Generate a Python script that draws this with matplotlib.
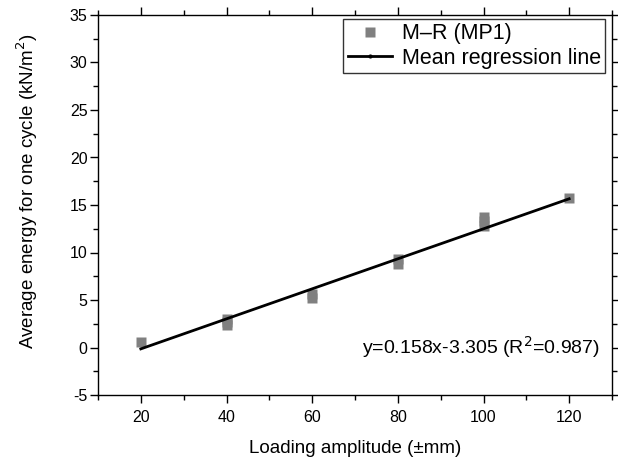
import matplotlib
matplotlib.use('Agg')
import matplotlib.pyplot as plt
from matplotlib.lines import Line2D
from matplotlib.ticker import MultipleLocator
import numpy as np

# data
amp_x = [20, 40, 40, 40, 60, 60, 80, 80, 100, 100, 100, 120]
energy_y = [0.6, 2.4, 2.7, 3.0, 5.2, 5.6, 8.8, 9.3, 12.8, 13.3, 13.7, 15.7]
slope = 0.158
intercept = -3.305
fit_range = [20, 120]

plt.rcParams['font.family'] = ['Liberation Sans', 'DejaVu Sans']
plt.rcParams['axes.unicode_minus'] = False

fig = plt.figure(figsize=(6.18, 4.61), dpi=100)
ax = fig.add_axes([98 / 618, 66 / 461, 514 / 618, 380 / 461])

ax.plot(amp_x, energy_y, 's', color='#808080', ms=7, mec='none', zorder=2)
xf = np.array(fit_range)
ax.plot(xf, slope * xf + intercept, color='black', lw=2, zorder=3)

ax.set_xlim(10, 130)
ax.set_ylim(-5, 35)
ax.xaxis.set_major_locator(MultipleLocator(20))
ax.xaxis.set_minor_locator(MultipleLocator(10))
ax.yaxis.set_major_locator(MultipleLocator(5))
ax.yaxis.set_minor_locator(MultipleLocator(2.5))
ax.tick_params(which='both', direction='out', top=True, right=True,
               labeltop=False, labelright=False, width=1)
ax.tick_params(which='major', length=5.5, labelsize=11.5)
ax.tick_params(axis='x', which='major', pad=5)
ax.tick_params(axis='y', which='major', pad=2)
ax.tick_params(which='minor', length=3.5)
for s in ax.spines.values():
    s.set_linewidth(1)

ax.set_xlabel('Loading amplitude (\u00b1mm)', fontsize=13.5, labelpad=11)
ax.set_ylabel('Average energy for one cycle (kN/m$^{2}$)', fontsize=13.5)
ax.yaxis.set_label_coords(-0.112, 0.535)

handles = [
    Line2D([], [], ls='none', marker='s', color='#808080', ms=7, mec='none'),
    Line2D([], [], color='black', lw=2, marker='o', ms=2),
]
leg = ax.legend(handles, ['M\u2013R (MP1)', 'Mean regression line'],
                loc='upper right', bbox_to_anchor=(605 / 618, 1 - 19 / 461),
                bbox_transform=fig.transFigure, fontsize=15.5, frameon=True,
                fancybox=False, borderpad=0.2, labelspacing=0.15,
                handlelength=2.05, handletextpad=0.45, borderaxespad=0)
leg.get_frame().set_edgecolor('black')
leg.get_frame().set_linewidth(1)

ax.text(0.977, 0.125, 'y=0.158x-3.305 (R$^{2}$=0.987)', transform=ax.transAxes,
        ha='right', va='center', fontsize=14)

fig.savefig('out.png', dpi=100)
